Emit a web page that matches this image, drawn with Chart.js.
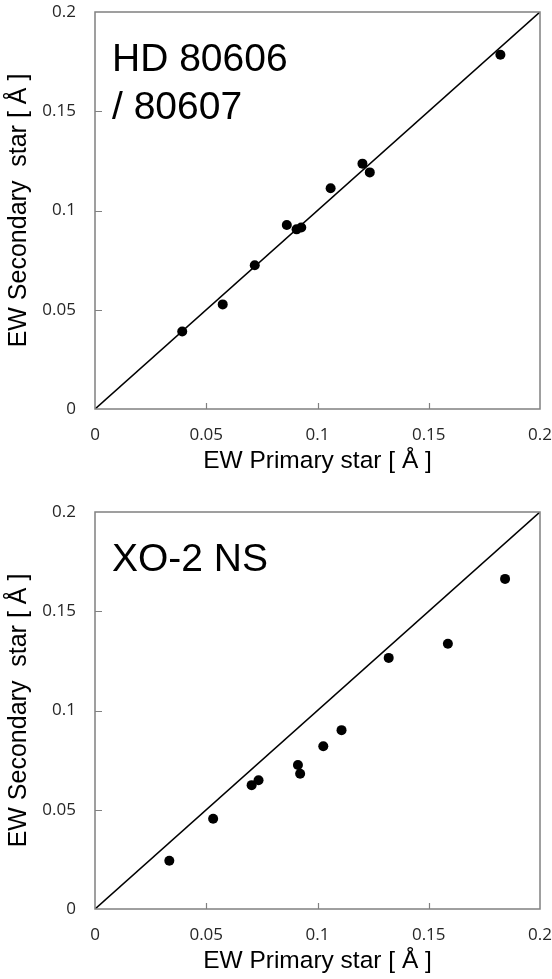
<!DOCTYPE html>
<html>
<head>
<meta charset="utf-8">
<script src="https://cdn.jsdelivr.net/npm/chart.js@4.4.1/dist/chart.umd.min.js"></script>
<style>
  html, body { margin: 0; padding: 0; background: #fff; }
  body { width: 552px; height: 979px; position: relative; overflow: hidden; }
  .panel { position: absolute; left: 0; width: 552px; height: 479px; }
  #panelTop { top: 0; }
  #panelBottom { top: 500px; }
</style>
</head>
<body>
<div class="panel" id="panelTop"><canvas id="chartTop" width="552" height="479"></canvas></div>
<div class="panel" id="panelBottom"><canvas id="chartBottom" width="552" height="479"></canvas></div>
<script>
// Equivalent widths (Å) of lines measured in both components of each binary
const hdPrimary   = [0.0392, 0.0574, 0.0718, 0.0862, 0.0906, 0.0927, 0.1059, 0.1202, 0.1235, 0.1822];
const hdSecondary = [0.0390, 0.0527, 0.0724, 0.0927, 0.0905, 0.0914, 0.1112, 0.1236, 0.1192, 0.1785];

const xoPrimary   = [0.0334, 0.0531, 0.0704, 0.0735, 0.0912, 0.0922, 0.1026, 0.1108, 0.1320, 0.1586, 0.1843];
const xoSecondary = [0.0243, 0.0455, 0.0624, 0.0649, 0.0725, 0.0681, 0.0820, 0.0901, 0.1265, 0.1336, 0.1663];

// One-to-one reference line
const unityX = [0, 0.2];
const unityY = [0, 0.2];

// Axis ticks and labels
const tickValues = [0, 0.05, 0.1, 0.15, 0.2];
const tickLabels = ['0', '0.05', '0.1', '0.15', '0.2'];

const xTitle = 'EW Primary star [ Å ]';
const yTitle = 'EW Secondary  star [ Å ]';

const hdName = ['HD 80606', '/ 80607'];
const xoName = ['XO-2 NS'];

const FRAME = '#808080';

// Plot frame plus short inward tick marks
const framePlugin = {
  id: 'frame',
  afterDatasetsDraw(chart) {
    const { ctx, chartArea: a, scales } = chart;
    ctx.save();
    ctx.strokeStyle = FRAME;
    ctx.lineWidth = 1.5;
    ctx.strokeRect(a.left, a.top, a.right - a.left, a.bottom - a.top);
    ctx.lineWidth = 1.2;
    ctx.beginPath();
    tickValues.slice(1, -1).forEach(v => {
      const px = Math.round(scales.x.getPixelForValue(v)) + 0.5;
      ctx.moveTo(px, a.bottom);
      ctx.lineTo(px, a.bottom - 6);
      const py = Math.round(scales.y.getPixelForValue(v)) + 0.5;
      ctx.moveTo(a.left, py);
      ctx.lineTo(a.left + 7, py);
    });
    ctx.stroke();
    ctx.restore();
  }
};

// Star name written in the upper left of the plot
const namePlugin = {
  id: 'starName',
  afterDraw(chart, args, opts) {
    const { ctx, chartArea: a } = chart;
    ctx.save();
    ctx.fillStyle = '#000';
    ctx.font = '39px "Liberation Sans", Arial, sans-serif';
    ctx.textAlign = 'left';
    ctx.textBaseline = 'alphabetic';
    opts.lines.forEach((t, i) => {
      ctx.fillText(t, a.left + 17, a.top + 59 + i * 48);
    });
    ctx.restore();
  }
};

function makeChart(id, xs, ys, nameLines) {
  const points = xs.map((x, i) => ({ x: x, y: ys[i] }));
  const unity = unityX.map((x, i) => ({ x: x, y: unityY[i] }));
  const tickFont = { family: '"Open Sans", sans-serif', size: 17 };
  const titleFont = { family: '"Liberation Sans", Arial, sans-serif', size: 24.5 };
  return new Chart(document.getElementById(id), {
    type: 'scatter',
    data: {
      datasets: [
        {
          type: 'line',
          data: unity,
          borderColor: '#000',
          borderWidth: 1.6,
          pointRadius: 0,
          fill: false,
          order: 2
        },
        {
          data: points,
          backgroundColor: '#000',
          borderColor: '#000',
          pointRadius: 5,
          pointBorderWidth: 0,
          order: 1
        }
      ]
    },
    options: {
      responsive: false,
      animation: false,
      events: [],
      layout: { padding: 0 },
      plugins: {
        legend: { display: false },
        tooltip: { enabled: false },
        starName: { lines: nameLines }
      },
      scales: {
        x: {
          type: 'linear',
          min: 0, max: 0.2,
          afterFit(s) { s.height = 70; s.paddingLeft = 0; s.paddingRight = 12; },
          afterBuildTicks(s) { s.ticks = tickValues.map(v => ({ value: v })); },
          grid: { display: false, drawTicks: false },
          border: { display: false },
          ticks: {
            padding: 16,
            color: '#262626',
            font: tickFont,
            maxRotation: 0,
            callback: (v) => tickLabels[tickValues.indexOf(v)]
          },
          title: {
            display: true,
            text: xTitle,
            color: '#000',
            font: titleFont,
            padding: { top: 0, bottom: 3 }
          }
        },
        y: {
          type: 'linear',
          min: 0, max: 0.2,
          afterFit(s) { s.width = 95; s.paddingTop = 12; s.paddingBottom = 0; },
          afterBuildTicks(s) { s.ticks = tickValues.map(v => ({ value: v })); },
          grid: { display: false, drawTicks: false },
          border: { display: false },
          ticks: {
            padding: 19,
            color: '#262626',
            font: tickFont,
            callback: (v) => tickLabels[tickValues.indexOf(v)]
          },
          title: {
            display: true,
            text: yTitle,
            color: '#000',
            font: { family: titleFont.family, size: 25 },
            padding: { top: 4, bottom: 0 }
          }
        }
      }
    },
    plugins: [framePlugin, namePlugin]
  });
}

makeChart('chartTop', hdPrimary, hdSecondary, hdName);
makeChart('chartBottom', xoPrimary, xoSecondary, xoName);
</script>
</body>
</html>
